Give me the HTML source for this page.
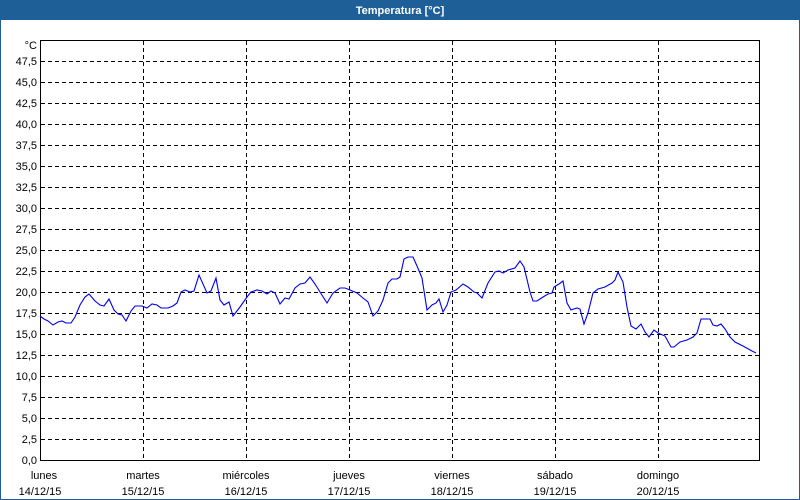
<!DOCTYPE html>
<html><head><style>
html,body{margin:0;padding:0;background:#fff;}
svg{display:block;font-family:"Liberation Sans",sans-serif;font-size:11px;}
</style></head><body>
<svg width="800" height="500" xmlns="http://www.w3.org/2000/svg">
<rect x="0" y="0" width="800" height="500" fill="#fff"/>
<rect x="0" y="0" width="800" height="20" fill="#1d5f96"/>
<rect x="0" y="20" width="1" height="480" fill="#1d5f96"/>
<rect x="799" y="20" width="1" height="480" fill="#1d5f96"/>
<rect x="0" y="499" width="800" height="1" fill="#1d5f96"/>
<text x="400" y="14" fill="#fff" font-weight="bold" text-anchor="middle">Temperatura [°C]</text>
<g stroke="#000" stroke-width="1" stroke-dasharray="4,3" shape-rendering="crispEdges">
<line x1="41" x2="760" y1="61.5" y2="61.5"/><line x1="41" x2="760" y1="82.5" y2="82.5"/><line x1="41" x2="760" y1="103.5" y2="103.5"/><line x1="41" x2="760" y1="124.5" y2="124.5"/><line x1="41" x2="760" y1="145.5" y2="145.5"/><line x1="41" x2="760" y1="166.5" y2="166.5"/><line x1="41" x2="760" y1="187.5" y2="187.5"/><line x1="41" x2="760" y1="208.5" y2="208.5"/><line x1="41" x2="760" y1="229.5" y2="229.5"/><line x1="41" x2="760" y1="250.5" y2="250.5"/><line x1="41" x2="760" y1="271.5" y2="271.5"/><line x1="41" x2="760" y1="292.5" y2="292.5"/><line x1="41" x2="760" y1="313.5" y2="313.5"/><line x1="41" x2="760" y1="334.5" y2="334.5"/><line x1="41" x2="760" y1="355.5" y2="355.5"/><line x1="41" x2="760" y1="376.5" y2="376.5"/><line x1="41" x2="760" y1="397.5" y2="397.5"/><line x1="41" x2="760" y1="418.5" y2="418.5"/><line x1="41" x2="760" y1="439.5" y2="439.5"/>
<line x1="143.5" x2="143.5" y1="41" y2="460"/><line x1="246.5" x2="246.5" y1="41" y2="460"/><line x1="349.5" x2="349.5" y1="41" y2="460"/><line x1="452.5" x2="452.5" y1="41" y2="460"/><line x1="555.5" x2="555.5" y1="41" y2="460"/><line x1="658.5" x2="658.5" y1="41" y2="460"/>
</g>
<rect x="40.5" y="40.5" width="719" height="420" fill="none" stroke="#000" shape-rendering="crispEdges"/>
<polyline fill="none" stroke="#0000ee" stroke-width="1.1" points="40,316 44,319 48,321 53,325 58,322 62,321 66,323 71,323 75,317 80,305 85,297 89,294 95,301 100,305 104,306 109,299 114,310 118,314 122,315 126,321 131,311 135,306 142,306 147,308 152,304 157,305 161,308 168,308 173,306 177,303 181,292 185,290 190,292 194,291 199,275 207,293 211,291 216,278 220,300 224,305 229,302 233,316 240,307 247,297 251,292 257,290 262,291 267,294 271,291 275,293 280,304 285,298 289,299 295,288 300,284 305,283 310,277 315,284 320,292 327,303 333,293 340,288 345,288 350,290 357,293 363,298 368,302 373,316 378,311 383,300 388,283 392,279 397,279 400,277 404,259 408,257 413,257 417,266 422,278 427,310 432,305 436,303 439,299 443,312 447,305 451,292 456,290 463,284 468,287 474,292 477,293 482,298 488,283 495,272 499,271 503,273 508,270 515,268 520,261 524,267 530,292 533,301 537,301 543,297 548,294 552,293 554,287 559,284 563,281 567,303 571,310 577,308 580,309 584,324 588,313 593,293 598,289 605,287 612,283 615,280 618,272 623,282 627,307 631,326 636,329 641,324 645,332 649,337 654,330 658,333 665,336 671,347 674,347 680,342 687,340 693,337 697,333 701,319 705,319 710,319 713,325 717,326 721,324 725,329 730,337 735,342 743,346 752,351 756,353"/>
<g text-anchor="end" fill="#000">
<text x="37" y="49">°C</text>
<text x="37" y="65">47,5</text><text x="37" y="86">45,0</text><text x="37" y="107">42,5</text><text x="37" y="128">40,0</text><text x="37" y="149">37,5</text><text x="37" y="170">35,0</text><text x="37" y="191">32,5</text><text x="37" y="212">30,0</text><text x="37" y="233">27,5</text><text x="37" y="254">25,0</text><text x="37" y="275">22,5</text><text x="37" y="296">20,0</text><text x="37" y="317">17,5</text><text x="37" y="338">15,0</text><text x="37" y="359">12,5</text><text x="37" y="380">10,0</text><text x="37" y="401">7,5</text><text x="37" y="422">5,0</text><text x="37" y="443">2,5</text><text x="37" y="464">0,0</text>
</g>
<g text-anchor="middle" fill="#000">
<text x="44" y="479">lunes</text><text x="40" y="495">14/12/15</text>
<text x="143" y="479">martes</text><text x="143" y="495">15/12/15</text>
<text x="246" y="479">miércoles</text><text x="246" y="495">16/12/15</text>
<text x="349" y="479">jueves</text><text x="349" y="495">17/12/15</text>
<text x="452" y="479">viernes</text><text x="452" y="495">18/12/15</text>
<text x="555" y="479">sábado</text><text x="555" y="495">19/12/15</text>
<text x="658" y="479">domingo</text><text x="658" y="495">20/12/15</text>
</g>
</svg>
</body></html>
